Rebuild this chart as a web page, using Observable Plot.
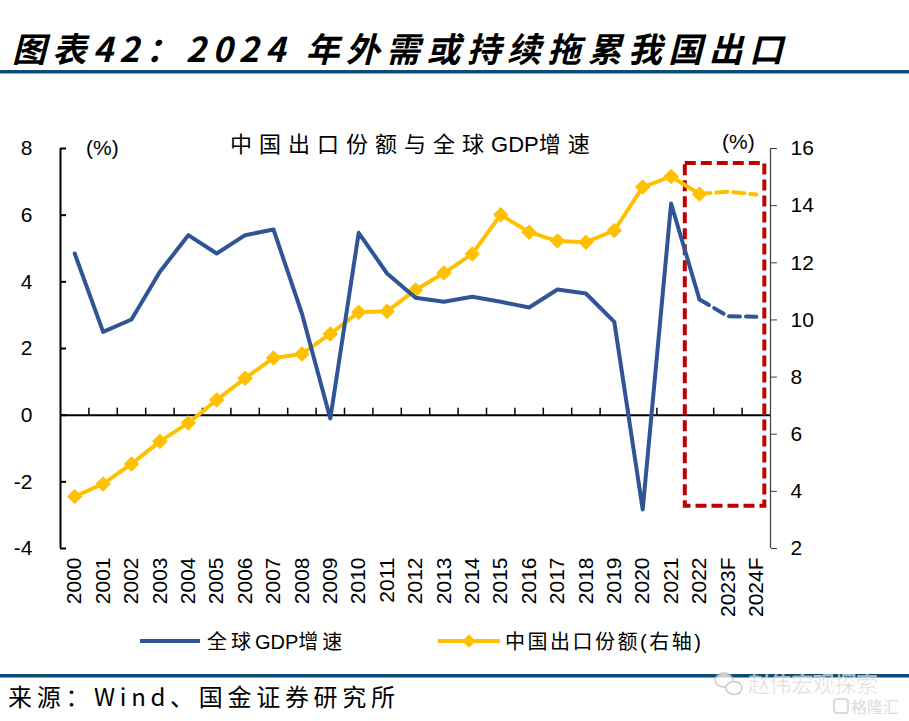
<!DOCTYPE html>
<html>
<head>
<meta charset="utf-8">
<script src="https://cdn.jsdelivr.net/npm/d3@7"></script>
<script src="https://cdn.jsdelivr.net/npm/@observablehq/plot@0.6"></script>
<style>
  html, body { margin: 0; padding: 0; background: #fff; }
  #wrap { position: relative; width: 909px; height: 721px; overflow: hidden; }
  #chart, #overlay { position: absolute; left: 0; top: 0; }
  #overlay { pointer-events: none; }
</style>
</head>
<body>
<div id="wrap">
  <div id="chart"></div>
  <svg id="overlay" width="909" height="721"></svg>
</div>
<script>
// ---- data ----
const years = ["2000","2001","2002","2003","2004","2005","2006","2007","2008","2009","2010","2011","2012","2013","2014","2015","2016","2017","2018","2019","2020","2021","2022","2023F","2024F"];
const gdpGrowth = [4.85, 2.5, 2.87, 4.3, 5.4, 4.85, 5.4, 5.57, 3.05, -0.1, 5.47, 4.25, 3.52, 3.4, 3.55, 3.4, 3.23, 3.77, 3.65, 2.8, -2.83, 6.35, 3.47, 2.97, 2.95];
const exportShare = [3.82, 4.26, 4.96, 5.75, 6.39, 7.2, 7.96, 8.67, 8.81, 9.51, 10.27, 10.3, 11.05, 11.64, 12.31, 13.68, 13.07, 12.76, 12.72, 13.13, 14.65, 15.02, 14.41, 14.49, 14.39];
const leftTicks = [-4, -2, 0, 2, 4, 6, 8];
const rightTicks = [2, 4, 6, 8, 10, 12, 14, 16];
const forecastFrom = "2022";          // last actual year; dashed afterwards
const highlight = {from: "2022", to: "2024F", top: 7.55, bottom: -2.73};

const title = "图表42：2024 年外需或持续拖累我国出口";
const chartTitleParts = ["中国出口份额与全球", "GDP", "增速"];
const seriesNames = [["全球", "GDP", "增速"], ["中国出口份额(右轴)"]];
const source = "来源：Wind、国金证券研究所";

// ---- scales helpers ----
const leftDomain = [-4, 8], rightDomain = [2, 16];
const toLeft = v => leftDomain[0] + (v - rightDomain[0]) * (leftDomain[1] - leftDomain[0]) / (rightDomain[1] - rightDomain[0]);
const fromLeft = v => rightDomain[0] + (v - leftDomain[0]) * (rightDomain[1] - rightDomain[0]) / (leftDomain[1] - leftDomain[0]);

const BLUE = "#2F5597", YELLOW = "#FFC000", RED = "#C00000";
const fIdx = years.indexOf(forecastFrom);
const rows = years.map((y, i) => ({i, year: y, gdp: gdpGrowth[i], share: exportShare[i], shareL: toLeft(exportShare[i])}));
const actual = rows.filter(d => d.i <= fIdx);
const forecast = rows.filter(d => d.i >= fIdx);

const xMin = -0.5, xMax = years.length - 0.5;
const pxPerX = 710 / years.length, pxPerY = 400 / (leftDomain[1] - leftDomain[0]);

const chart = Plot.plot({
  width: 909, height: 721,
  marginTop: 148, marginBottom: 173, marginLeft: 60, marginRight: 139,
  x: {domain: [xMin, xMax], label: null},
  y: {domain: leftDomain, label: null},
  style: {fontFamily: "'Liberation Sans', Arial, sans-serif", fontSize: "21px", color: "#000", background: "transparent"},
  marks: [
    // zero line and its minor ticks
    Plot.ruleY([0], {x1: xMin, x2: xMax, stroke: "#000", strokeWidth: 2}),
    Plot.ruleX(d3.range(1, years.length).map(k => k - 0.5), {y1: 0, y2: 7 / pxPerY, stroke: "#000", strokeWidth: 1.5}),
    // left axis
    Plot.ruleX([xMin], {y1: leftDomain[0], y2: leftDomain[1], stroke: "#000", strokeWidth: 2}),
    Plot.ruleY(leftTicks, {x1: xMin, x2: xMin + 6 / pxPerX, stroke: "#000", strokeWidth: 2}),
    Plot.axisY(leftTicks, {anchor: "left", label: null, tickSize: 0, tickPadding: 28, fontSize: 21, tickFormat: d => String(d)}),
    // right axis
    Plot.ruleX([xMax], {y1: leftDomain[0], y2: leftDomain[1], stroke: "#404040", strokeWidth: 1.2}),
    Plot.axisY(rightTicks.map(toLeft), {anchor: "right", label: null, tickSize: 6, tickPadding: 14, stroke: "#404040", fontSize: 21, tickFormat: d => String(Math.round(fromLeft(d)))}),
    // x axis labels
    Plot.axisX(d3.range(years.length), {anchor: "bottom", label: null, tickSize: 0, tickPadding: 9, tickRotate: -90, tickFormat: i => years[i], fontSize: 21}),
    // highlight box
    Plot.rect([highlight], {
      x1: d => years.indexOf(d.from) - 0.5, x2: d => years.indexOf(d.to) + 0.3,
      y1: "bottom", y2: "top", fill: "none", stroke: RED, strokeWidth: 4, strokeDasharray: "11,5"
    }),
    // yellow series
    Plot.line(actual, {x: "i", y: "shareL", stroke: YELLOW, strokeWidth: 4}),
    Plot.line(forecast, {x: "i", y: "shareL", stroke: YELLOW, strokeWidth: 4, strokeDasharray: "11,6"}),
    Plot.dot(actual, {x: "i", y: "shareL", symbol: "diamond2", r: 7, fill: YELLOW, stroke: "none"}),
    // blue series
    Plot.line(actual, {x: "i", y: "gdp", stroke: BLUE, strokeWidth: 4}),
    Plot.line(forecast, {x: "i", y: "gdp", stroke: BLUE, strokeWidth: 4, strokeDasharray: "11,6"})
  ]
});
document.getElementById("chart").appendChild(chart);

// ---- overlay: titles, legend, footer ----
const ov = d3.select("#overlay");
const CJK = "'Noto Sans CJK SC', 'Liberation Sans', sans-serif";
const LAT = "'Liberation Sans', 'Noto Sans CJK SC', sans-serif";
const RULE = "#0F4C75";

function spaced(x, y, parts, size, spacing) {
  const t = ov.append("text").attr("x", x).attr("y", y).attr("font-family", LAT).attr("font-size", size);
  parts.forEach(p => {
    const isLatin = /^[A-Za-z]+$/.test(p);
    t.append("tspan").attr("letter-spacing", isLatin ? 0 : spacing).text(p);
  });
  return t;
}

ov.append("text").attr("x", 12).attr("y", 62).attr("font-family", CJK)
  .attr("font-size", 34).attr("font-weight", "bold").attr("font-style", "italic")
  .attr("textLength", 771).attr("lengthAdjust", "spacing").text(title);
ov.append("rect").attr("x", 0).attr("y", 70).attr("width", 909).attr("height", 3.5).attr("fill", RULE);

spaced(230, 152, chartTitleParts, 22, 7);
ov.append("text").attr("x", 86).attr("y", 155).attr("font-family", LAT).attr("font-size", 21).text("(%)");
ov.append("text").attr("x", 722).attr("y", 149).attr("font-family", LAT).attr("font-size", 21).text("(%)");

// legend
const ly = 641;
ov.append("line").attr("x1", 140).attr("x2", 200).attr("y1", ly).attr("y2", ly).attr("stroke", BLUE).attr("stroke-width", 4);
spaced(207, ly + 8, seriesNames[0], 20, 4);
ov.append("line").attr("x1", 438).attr("x2", 500).attr("y1", ly).attr("y2", ly).attr("stroke", YELLOW).attr("stroke-width", 4);
ov.append("path").attr("d", d3.symbol(d3.symbolDiamond2, 120)()).attr("transform", `translate(469,${ly})`).attr("fill", YELLOW);
spaced(505, ly + 8, seriesNames[1], 20, 2.5);

// footer
ov.append("rect").attr("x", 0).attr("y", 674).attr("width", 909).attr("height", 3.5).attr("fill", RULE);
ov.append("text").attr("x", 8).attr("y", 706).attr("font-family", CJK).attr("font-size", 24)
  .attr("textLength", 387).attr("lengthAdjust", "spacing").text(source);

// watermark
const wm = ov.append("g").attr("opacity", 0.75);
wm.append("ellipse").attr("cx", 724).attr("cy", 680).attr("rx", 9).attr("ry", 7).attr("fill", "#fff").attr("stroke", "#bbb").attr("stroke-width", 1.5);
wm.append("ellipse").attr("cx", 734).attr("cy", 688).attr("rx", 8).attr("ry", 6.5).attr("fill", "#fff").attr("stroke", "#bbb").attr("stroke-width", 1.5);
wm.append("text").attr("x", 748).attr("y", 692).attr("font-family", CJK).attr("font-size", 22)
  .attr("fill", "#c8c8c8").attr("stroke", "#fff").attr("stroke-width", 0.6).attr("textLength", 130).attr("lengthAdjust", "spacing").text("赵伟宏观探索");
wm.append("rect").attr("x", 834).attr("y", 699).attr("width", 14).attr("height", 14).attr("rx", 3).attr("fill", "none").attr("stroke", "#d0d0d0").attr("stroke-width", 2);
wm.append("text").attr("x", 851).attr("y", 713).attr("font-family", CJK).attr("font-size", 16)
  .attr("fill", "#d0d0d0").text("格隆汇");
</script>
</body>
</html>
